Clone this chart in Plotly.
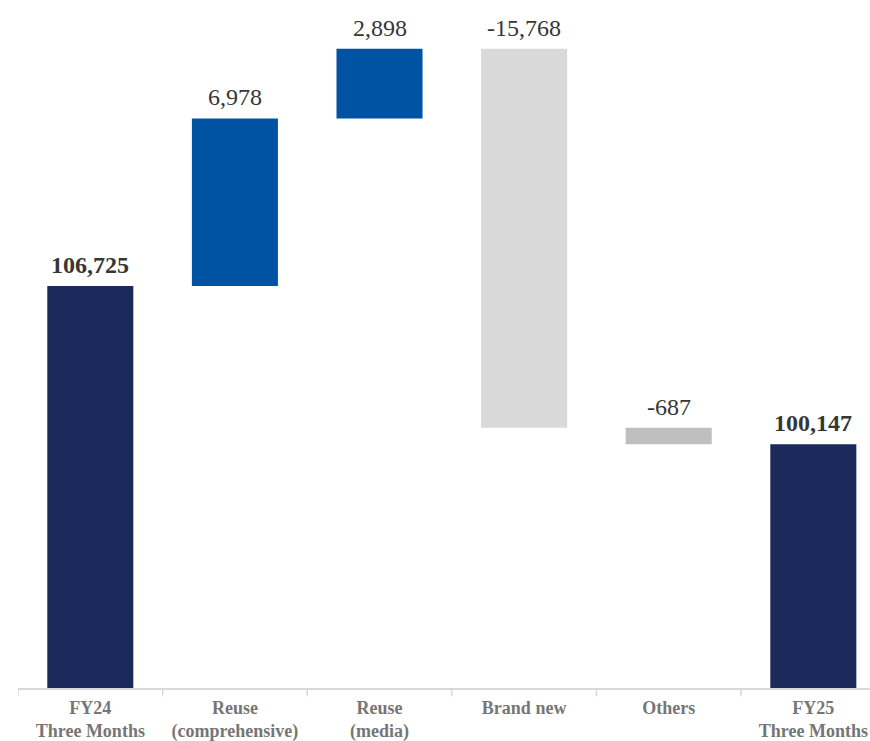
import plotly.graph_objects as go

# Waterfall data: opening total, changes, closing total
categories = ["FY24<br>Three Months", "Reuse<br>(comprehensive)", "Reuse<br>(media)",
              "Brand new", "Others", "FY25<br>Three Months"]
values = [106725, 6978, 2898, -15768, -687, 100147]
kinds = ["total", "delta", "delta", "delta", "delta", "total"]
labels = ["106,725", "6,978", "2,898", "-15,768", "-687", "100,147"]
colors = ["#1B2A5B", "#0052A3", "#0052A3", "#D9D9D9", "#BFBFBF", "#1B2A5B"]

# Build floating bar bases from the running total
bases, heights, tops = [], [], []
running = 0
for v, k in zip(values, kinds):
    if k == "total":
        bases.append(0)
        heights.append(v)
        running = v
        tops.append(v)
    else:
        start = running
        running += v
        bases.append(min(start, running))
        heights.append(abs(v))
        tops.append(max(start, running))

x_idx = list(range(len(categories)))

fig = go.Figure(go.Bar(
    x=x_idx, y=heights, base=bases,
    marker=dict(color=colors, line=dict(width=0)),
    width=0.595, hoverinfo="skip",
))

for i, (t, lab, k) in enumerate(zip(tops, labels, kinds)):
    txt = f"<b>{lab}</b>" if k == "total" else lab
    fig.add_annotation(
        x=i, y=t, text=txt, showarrow=False, yanchor="bottom", yshift=6,
        font=dict(family="Liberation Serif, Times New Roman, serif", size=24,
                  color="#363636"),
    )

fig.update_layout(
    width=870, height=741,
    margin=dict(l=18, r=0, t=0, b=53),
    plot_bgcolor="white", paper_bgcolor="white",
    showlegend=False,
    font=dict(family="Liberation Serif, Times New Roman, serif"),
)
fig.update_xaxes(
    type="linear",
    range=[-0.5, 5.392],
    tickmode="array", tickvals=x_idx,
    ticktext=[f"<b>{c}</b>" for c in categories],
    tickfont=dict(size=18, color="#767676"),
    ticklabelstandoff=2,
    automargin=False,
    showline=True, linecolor="#D9D9D9", linewidth=2,
    ticks="", showgrid=False, zeroline=False,
)
# boundary ticks between categories
for b in [-0.5, 0.5, 1.5, 2.5, 3.5, 4.5]:
    fig.add_shape(type="line", xref="x", yref="paper", x0=b, x1=b, y0=0, y1=-0.012,
                  line=dict(color="#D9D9D9", width=1.5))
fig.update_yaxes(range=[90000, 118630], visible=False, showgrid=False, zeroline=False,
                 automargin=False)

fig.write_html("out.html")
